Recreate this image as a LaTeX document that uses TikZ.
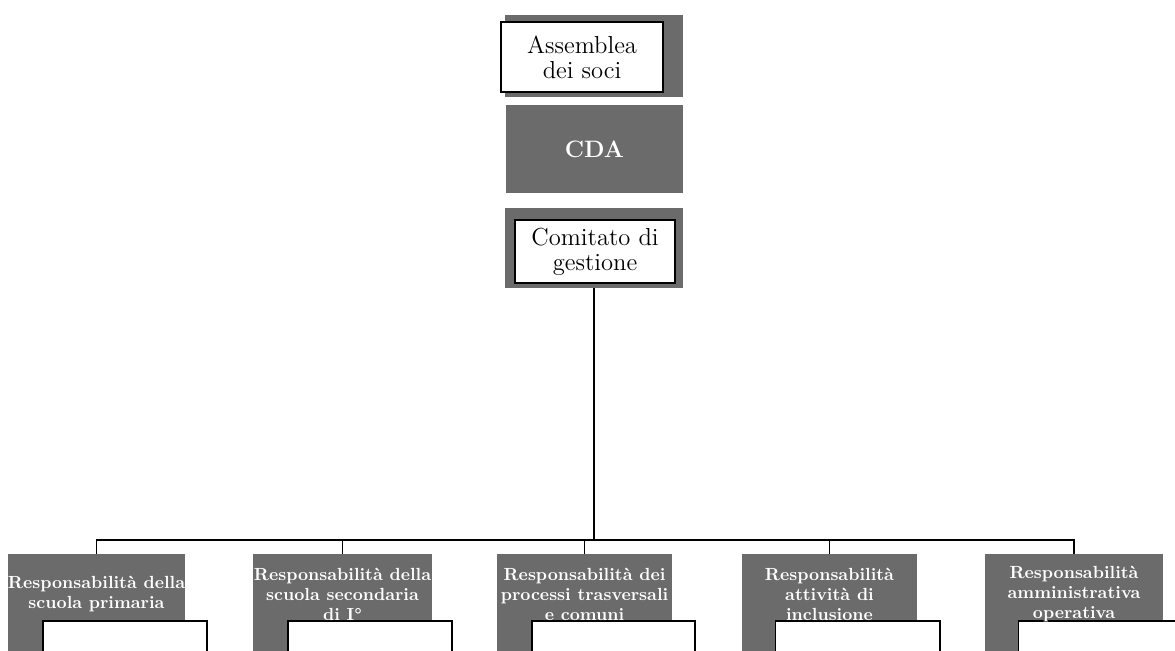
\documentclass[tikz,border=0pt]{standalone}
\usepackage{fontspec}
\usepackage{tikz}

\tikzset{
  grigio/.style={fill=black!58, draw=none, inner sep=0pt},
  bianco/.style={fill=white, draw=black, line width=0.6pt, inner sep=0pt},
  vertice/.style={align=center, font=\fontsize{14}{14.2}\selectfont},
  resp/.style={align=center, text=white, inner sep=0pt,
    font=\fontsize{10}{11.4}\selectfont\bfseries},
  linea/.style={draw=black, line width=1pt},
}

\begin{document}
\begin{tikzpicture}[x=0.02cm,y=-0.02cm]
  \clip (0,0) rectangle (1175,651);

  % vertice
  \node (assombra)  at (594,56)    [grigio, minimum width=3.56cm, minimum height=1.64cm] {};
  \node (assemblea) at (582,57)    [bianco, vertice, minimum width=3.24cm, minimum height=1.4cm] {Assemblea\\dei soci};
  \node (cda)       at (594.5,149) [grigio, minimum width=3.54cm, minimum height=1.76cm,
                                    text=white, font=\fontsize{13.5}{13.5}\selectfont\bfseries] {CDA};
  \node (comcornice) at (594,248)  [grigio, minimum width=3.56cm, minimum height=1.6cm] {};
  \node (comitato)  at (595,251.5) [bianco, vertice, minimum width=3.2cm, minimum height=1.26cm] {Comitato di\\gestione};

  % responsabilita
  \node (prim)   at (96.5,607)  [grigio, minimum width=3.54cm, minimum height=2.12cm] {};
  \node (primb)  at (125,640.5) [bianco, minimum width=3.28cm, minimum height=0.78cm] {};
  \node (primt)  at (96.5,594)  [resp] {Responsabilità della\\scuola primaria};

  \node (sec)    at (342.5,607) [grigio, minimum width=3.58cm, minimum height=2.12cm] {};
  \node (secb)   at (370,640.5) [bianco, minimum width=3.28cm, minimum height=0.78cm] {};
  \node (sect)   at (342.5,594) [resp] {Responsabilità della\\scuola secondaria\\di I°};

  \node (proc)   at (584.5,607) [grigio, minimum width=3.5cm, minimum height=2.12cm] {};
  \node (procb)  at (613.5,640.5) [bianco, minimum width=3.26cm, minimum height=0.78cm] {};
  \node (proct)  at (584.5,594) [resp] {Responsabilità dei\\processi trasversali\\e comuni};

  \node (incl)   at (829.5,607) [grigio, minimum width=3.5cm, minimum height=2.12cm] {};
  \node (inclb)  at (857.5,640.5) [bianco, minimum width=3.3cm, minimum height=0.78cm] {};
  \node (inclt)  at (829.5,594) [resp] {Responsabilità\\attività di\\inclusione};

  \node (amm)    at (1074,607)  [grigio, minimum width=3.56cm, minimum height=2.12cm] {};
  \node (ammb)   at (1100,640.5) [bianco, minimum width=3.28cm, minimum height=0.78cm] {};
  \node (ammt)   at (1074,594)  [resp] {Responsabilità\\amministrativa\\operativa};

  \coordinate (bus) at (594,540);

  \draw[linea] (node cs:name=comcornice,anchor=south) -- (bus);
  \draw[linea] (node cs:name=prim,anchor=north) |- (bus);
  \draw[linea] (node cs:name=sec,anchor=north)  |- (bus);
  \draw[linea] (node cs:name=proc,anchor=north) |- (bus);
  \draw[linea] (node cs:name=incl,anchor=north) |- (bus);
  \draw[linea] (node cs:name=amm,anchor=north)  |- (bus);
\end{tikzpicture}
\end{document}
